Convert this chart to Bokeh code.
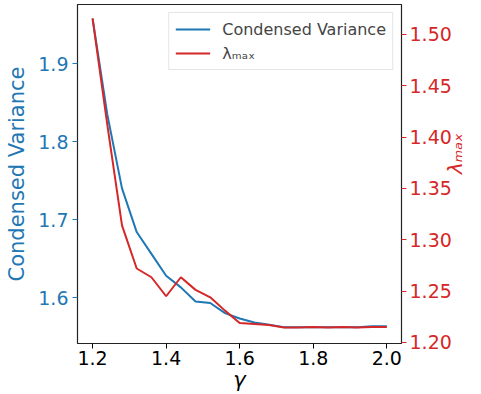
import math
from bokeh.plotting import figure
from bokeh.models import Range1d, LinearAxis, FixedTicker, Legend, LegendItem
from bokeh.embed import file_html
from bokeh.resources import INLINE

gamma = [1.20, 1.24, 1.28, 1.32, 1.36, 1.40, 1.44, 1.48, 1.52, 1.56, 1.60,
         1.64, 1.68, 1.72, 1.76, 1.80, 1.84, 1.88, 1.92, 1.96, 2.00]
cond_var = [1.958, 1.835, 1.740, 1.684, 1.656, 1.628, 1.613, 1.595, 1.593, 1.580, 1.573,
            1.568, 1.565, 1.562, 1.562, 1.562, 1.562, 1.562, 1.562, 1.563, 1.563]
lam_max = [1.5156, 1.412, 1.314, 1.272, 1.2635, 1.245, 1.2635, 1.2512, 1.244, 1.231, 1.219,
           1.218, 1.217, 1.2145, 1.2145, 1.215, 1.2145, 1.215, 1.2145, 1.215, 1.215]

x_ticks = [1.2, 1.4, 1.6, 1.8, 2.0]
left_ticks = [1.6, 1.7, 1.8, 1.9]
right_ticks = [1.20, 1.25, 1.30, 1.35, 1.40, 1.45, 1.50]

BLUE = "#1f77b4"
RED = "#d62728"
FONT = "DejaVu Sans"

p = figure(width=481, height=394, output_backend="svg", toolbar_location=None,
           x_range=Range1d(1.159, 2.04), y_range=Range1d(1.541, 1.976),
           min_border_left=77, min_border_right=76, min_border_top=4, min_border_bottom=51)
p.extra_y_ranges = {"lam": Range1d(1.199, 1.529)}
p.grid.visible = False
p.outline_line_color = "#222222"
p.outline_line_width = 1.2

r1 = p.line(gamma, cond_var, line_color=BLUE, line_width=2)
r2 = p.line(gamma, lam_max, line_color=RED, line_width=2, y_range_name="lam")

xa = p.xaxis[0]
xa.ticker = FixedTicker(ticks=x_ticks)
xa.major_label_overrides = {t: f"{t:.1f}" for t in x_ticks}
xa.axis_label = "γ"
xa.major_label_text_color = "black"
xa.axis_label_text_color = "black"
xa.major_tick_line_color = "black"

ya = p.yaxis[0]
ya.ticker = FixedTicker(ticks=left_ticks)
ya.axis_label = "Condensed Variance"
ya.axis_label_text_color = BLUE
ya.major_label_text_color = BLUE
ya.major_tick_line_color = BLUE

ra = LinearAxis(y_range_name="lam", ticker=FixedTicker(ticks=right_ticks),
                axis_label="λₘₐₓ")
ra.major_label_text_color = RED
ra.major_tick_line_color = RED
ra.axis_label_text_color = RED
ra.major_label_overrides = {t: f"{t:.2f}" for t in right_ticks}
p.add_layout(ra, "right")

for ax in [xa, ya, ra]:
    ax.axis_line_color = None
    ax.minor_tick_line_color = None
    ax.major_tick_in = 0
    ax.major_tick_out = 5
    ax.major_label_text_font = FONT
    ax.major_label_text_font_size = "19px"
    ax.axis_label_text_font = FONT
    ax.axis_label_text_font_size = "21px"
    ax.major_label_standoff = 4
    ax.axis_label_standoff = 6
xa.axis_label_text_font_style = "italic"
ya.axis_label_text_font_style = "normal"
ra.axis_label_text_font_style = "italic"
xa.major_label_standoff = 2
xa.axis_label_standoff = 0
ra.major_label_standoff = 3
ra.axis_label_standoff = 0
ra.axis_label_text_font_size = "20px"
if hasattr(ra, "axis_label_orientation"):
    ra.axis_label_orientation = math.pi / 2

legend = Legend(items=[LegendItem(label="Condensed Variance", renderers=[r1]),
                       LegendItem(label="λₘₐₓ", renderers=[r2])],
                location="top_right")
legend.label_text_font = FONT
legend.label_text_font_size = "16px"
legend.glyph_width = 35
legend.label_standoff = 12
legend.border_line_color = "#cccccc"
legend.border_line_width = 1
legend.margin = 8
legend.padding = 6
legend.spacing = 4
p.add_layout(legend)

open("out.html", "w").write(file_html(p, INLINE))
